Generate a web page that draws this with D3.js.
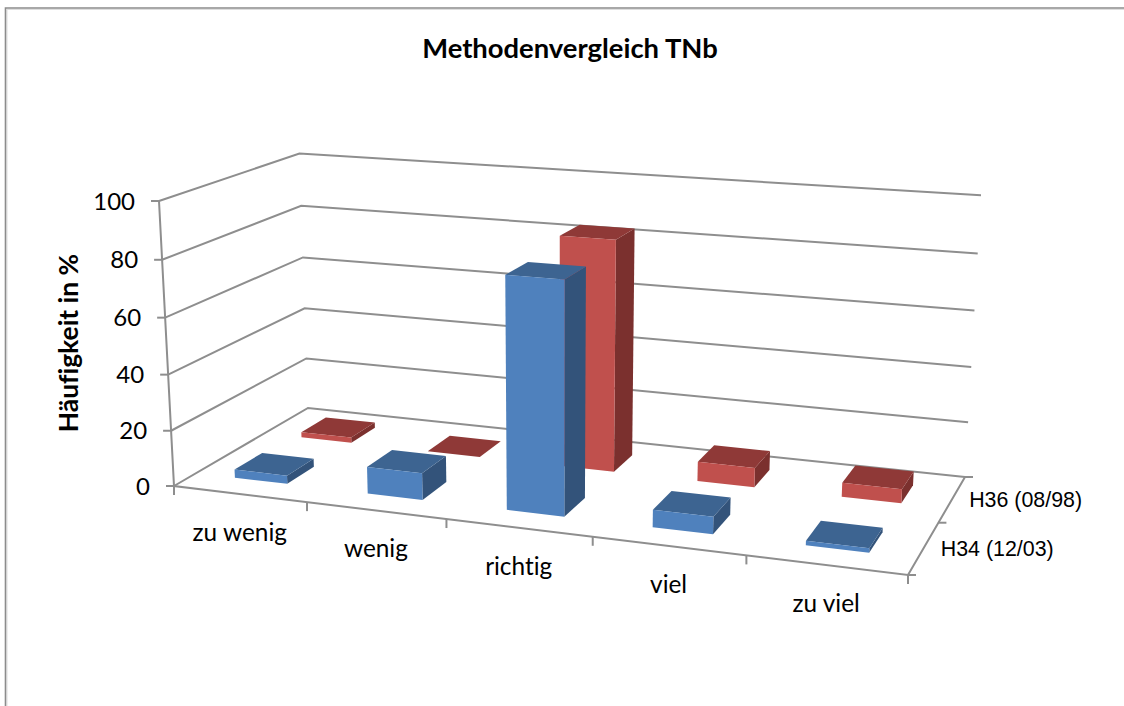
<!DOCTYPE html>
<html>
<head>
<meta charset="utf-8">
<title>Methodenvergleich TNb</title>
<script src="https://d3js.org/d3.v7.min.js"></script>
<style>
  html, body { margin: 0; padding: 0; background: #fff; }
  svg { display: block; }
  text { fill: #000; font-family: Lato, "Open Sans", sans-serif; font-variant-ligatures: none; }
</style>
</head>
<body>
<div id="chart"></div>
<script>
var svgWidth = 1124;
var svgHeight = 706;

var categories = ["zu wenig", "wenig", "richtig", "viel", "zu viel"];
var seriesNames = ["H34 (12/03)", "H36 (08/98)"];
var valuesH34 = [3, 9.5, 80.5, 6, 1.5];
var valuesH36 = [2, 0, 83.5, 7, 5];
var valueTicks = [0, 20, 40, 60, 80, 100];

var barFraction = 0.4; // gap width and gap depth of 150%

var axisColor = "#8e8e8e";
var colorsH34 = { front: "#4f81bd", top: "#3d6491", side: "#33537a" };
var colorsH36 = { front: "#c0504d", top: "#8f3937", side: "#7b302e" };

// screen position of the plot box corners, the camera is derived from these
var boxOrigin = [174, 486];   // floor, front left
var boxRight = [908, 575];    // floor, front right
var boxBack = [308, 408];     // floor, back left
var boxUp = [159, 201];       // top, front left
var boxFloorFar = [965, 477]; // floor, back right
var boxTopFar = [981, 195];   // top, back right

// perspective camera: maps unit box coordinates (a, b, c) to the screen
function makeCamera() {
  var o = boxOrigin, r = boxRight, b = boxBack, u = boxUp, f = boxFloorFar, t = boxTopFar;
  var a1 = f[0] - r[0], b1 = f[0] - b[0], c1 = r[0] + b[0] - o[0] - f[0];
  var a2 = f[1] - r[1], b2 = f[1] - b[1], c2 = r[1] + b[1] - o[1] - f[1];
  var det = a1 * b2 - a2 * b1;
  var g = (c1 * b2 - c2 * b1) / det;
  var h = (a1 * c2 - a2 * c1) / det;
  var i = (r[0] + b[0] + u[0] - 2 * o[0] - t[0] - g * (t[0] - r[0]) - h * (t[0] - b[0])) / (t[0] - u[0]);

  return function(a, bb, c) {
    var w = 1 + g * a + h * bb + i * c;
    return [0, 1].map(function(k) {
      return (o[k]
        + (r[k] * (1 + g) - o[k]) * a
        + (b[k] * (1 + h) - o[k]) * bb
        + (u[k] * (1 + i) - o[k]) * c) / w;
    });
  };
}

var camera = makeCamera();

var xScale = d3.scaleLinear().domain([0, categories.length]).range([0, 1]);
var zScale = d3.scaleLinear().domain([0, seriesNames.length]).range([0, 1]);
var yScale = d3.scaleLinear().domain([0, 100]).range([0, 1]);

// project a point given as category position, value and series position
function project(x, y, z) {
  return camera(xScale(x), zScale(z), yScale(y));
}

var line = d3.line();

var svg = d3.select("#chart")
  .append("svg")
  .attr("width", svgWidth)
  .attr("height", svgHeight);

function drawLine(parent, points) {
  parent.append("path")
    .attr("d", line(points))
    .attr("fill", "none")
    .attr("stroke", axisColor)
    .attr("stroke-width", 2);
}

// outer chart border, open at the right and bottom
svg.append("path")
  .attr("d", line([[7, svgHeight], [7, 9.5], [svgWidth, 9.5]]))
  .attr("fill", "none")
  .attr("stroke", "#dedede")
  .attr("stroke-width", 1);

svg.append("path")
  .attr("d", line([[5.5, svgHeight], [5.5, 8], [svgWidth, 8]]))
  .attr("fill", "none")
  .attr("stroke", "#8c8c8c")
  .attr("stroke-width", 1.6);

svg.append("text")
  .attr("x", 570)
  .attr("y", 58)
  .attr("text-anchor", "middle")
  .style("font-size", "27.4px")
  .style("font-weight", 700)
  .text("Methodenvergleich TNb");

svg.append("text")
  .attr("transform", "translate(78, 343) rotate(-90)")
  .attr("text-anchor", "middle")
  .style("font-size", "26.4px")
  .style("font-weight", 700)
  .text("Häufigkeit in %");

// grid lines run along the left wall and the back wall
var grid = svg.append("g");
var nCat = categories.length, nSer = seriesNames.length;

valueTicks.forEach(function(v) {
  drawLine(grid, [project(0, v, 0), project(0, v, nSer), project(nCat, v, nSer)]);

  var p = project(0, v, 0);
  drawLine(grid, [[p[0] - 8, p[1]], p]);
  svg.append("text")
    .attr("x", p[0] - 24)
    .attr("y", p[1])
    .attr("dy", "0.36em")
    .attr("text-anchor", "end")
    .style("font-size", "24px")
    .text(v);
});

// floor outline and value axis
drawLine(grid, [project(0, 100, 0), project(0, 0, 0), project(nCat, 0, 0), project(nCat, 0, nSer)]);

d3.range(nCat + 1).forEach(function(i) {
  var p = project(i, 0, 0);
  drawLine(grid, [p, [p[0], p[1] + 9]]);
});

d3.range(nSer + 1).forEach(function(i) {
  var p = project(nCat, 0, i);
  drawLine(grid, [p, [p[0] + 8, p[1]]]);
});

categories.forEach(function(name, i) {
  var p = project(i + 0.5, 0, 0);
  svg.append("text")
    .attr("x", p[0])
    .attr("y", p[1] + 38)
    .attr("dy", "0.36em")
    .attr("text-anchor", "middle")
    .style("font-size", "24.4px")
    .text(name);
});

seriesNames.forEach(function(name, i) {
  var p = project(nCat, 0, i + 0.5);
  svg.append("text")
    .attr("x", p[0] + 17)
    .attr("y", p[1])
    .attr("dy", "0.36em")
    .style("font-family", "'Liberation Sans', Arial, sans-serif")
    .style("font-size", "21.4px")
    .text(name);
});

// one box per value: side, top and front face, back series first
function drawBars(values, seriesIndex, colors) {
  var g = svg.append("g");
  var pad = (1 - barFraction) / 2;

  values.forEach(function(v, i) {
    var x0 = i + pad, x1 = i + 1 - pad;
    var z0 = seriesIndex + pad, z1 = seriesIndex + 1 - pad;

    var faces = [
      { fill: colors.side, pts: [project(x1, 0, z0), project(x1, 0, z1), project(x1, v, z1), project(x1, v, z0)] },
      { fill: colors.top, pts: [project(x0, v, z0), project(x1, v, z0), project(x1, v, z1), project(x0, v, z1)] },
      { fill: colors.front, pts: [project(x0, 0, z0), project(x1, 0, z0), project(x1, v, z0), project(x0, v, z0)] }
    ];

    g.selectAll(null)
      .data(faces)
      .enter()
      .append("path")
      .attr("d", function(d) { return line(d.pts) + "Z"; })
      .attr("fill", function(d) { return d.fill; });
  });
}

drawBars(valuesH36, 1, colorsH36);
drawBars(valuesH34, 0, colorsH34);
</script>
</body>
</html>
